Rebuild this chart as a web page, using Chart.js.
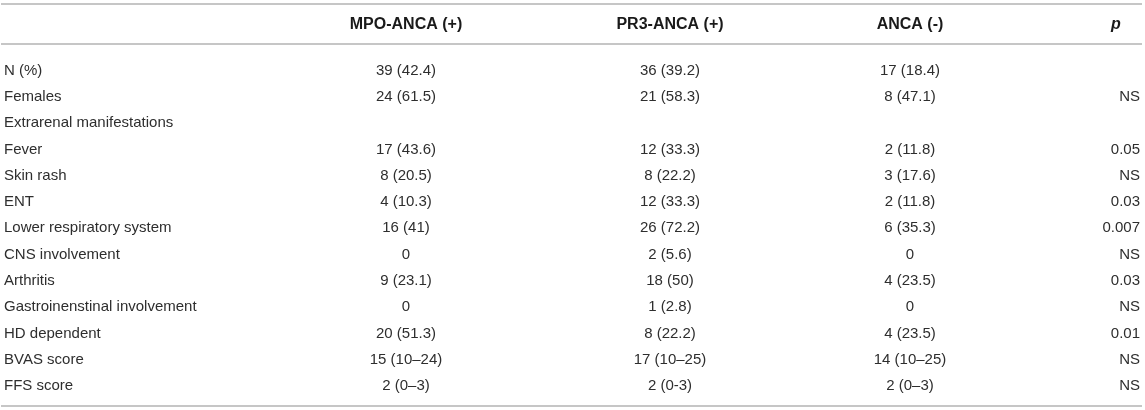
<!DOCTYPE html>
<html>
<head>
<meta charset="utf-8">
<script src="https://cdn.jsdelivr.net/npm/chart.js@4/dist/chart.umd.min.js"></script>
<style>
  html, body { margin: 0; padding: 0; background: #fff; }
  #wrap { width: 1145px; height: 410px; position: relative; }
</style>
</head>
<body>
<div id="wrap"><canvas id="table"></canvas></div>
<script>
// table content
const headers = ['', 'MPO-ANCA (+)', 'PR3-ANCA (+)', 'ANCA (-)', 'p'];
const rowLabels = ['N (%)', 'Females', 'Extrarenal manifestations', 'Fever', 'Skin rash', 'ENT',
  'Lower respiratory system', 'CNS involvement', 'Arthritis', 'Gastroinenstinal involvement',
  'HD dependent', 'BVAS score', 'FFS score'];
const mpoPos = ['39 (42.4)', '24 (61.5)', '', '17 (43.6)', '8 (20.5)', '4 (10.3)', '16 (41)', '0',
  '9 (23.1)', '0', '20 (51.3)', '15 (10–24)', '2 (0–3)'];
const pr3Pos = ['36 (39.2)', '21 (58.3)', '', '12 (33.3)', '8 (22.2)', '12 (33.3)', '26 (72.2)', '2 (5.6)',
  '18 (50)', '1 (2.8)', '8 (22.2)', '17 (10–25)', '2 (0-3)'];
const ancaNeg = ['17 (18.4)', '8 (47.1)', '', '2 (11.8)', '3 (17.6)', '2 (11.8)', '6 (35.3)', '0',
  '4 (23.5)', '0', '4 (23.5)', '14 (10–25)', '2 (0–3)'];
const pValues = ['', 'NS', '', '0.05', 'NS', '0.03', '0.007', 'NS', '0.03', 'NS', '0.01', 'NS', 'NS'];

// layout (x in px across the page, y in row units)
const colX = [4, 406, 670, 910, 1140];
const colAlign = ['left', 'center', 'center', 'center', 'right'];
const headerX = [4, 406, 670, 910, 1116];
const headerRow = -1.73;
const rules = [-2.53, -1.008, 12.76];

const FONT = '"Liberation Sans", Arial, Helvetica, sans-serif';
const columns = [rowLabels, mpoPos, pr3Pos, ancaNeg, pValues];

function cellPoints(col, i) {
  return col.map((txt, r) => ({ x: colX[i], y: r, txt: txt }));
}

const tablePlugin = {
  id: 'tableText',
  afterDatasetsDraw(chart) {
    const ctx = chart.ctx;
    const xs = chart.scales.x, ys = chart.scales.y;
    ctx.save();

    // horizontal rules
    ctx.strokeStyle = '#c6c6c6';
    ctx.lineWidth = 2;
    rules.forEach(r => {
      const y = Math.round(ys.getPixelForValue(r));
      ctx.beginPath();
      ctx.moveTo(xs.getPixelForValue(1), y);
      ctx.lineTo(xs.getPixelForValue(1142), y);
      ctx.stroke();
    });

    // header
    ctx.fillStyle = '#1a1a1a';
    ctx.textBaseline = 'middle';
    headers.forEach((h, i) => {
      if (!h) return;
      ctx.font = (i === 4 ? 'italic bold ' : 'bold ') + '16px ' + FONT;
      ctx.textAlign = 'center';
      ctx.fillText(h, xs.getPixelForValue(headerX[i]), ys.getPixelForValue(headerRow));
    });

    // body cells, placed at each point of the datasets
    ctx.font = '15px ' + FONT;
    ctx.fillStyle = '#2e2e2e';
    chart.data.datasets.forEach((ds, i) => {
      const meta = chart.getDatasetMeta(i);
      ctx.textAlign = colAlign[i];
      meta.data.forEach((pt, j) => {
        const txt = ds.data[j].txt;
        if (txt) ctx.fillText(txt, pt.x, pt.y);
      });
    });
    ctx.restore();
  }
};

new Chart(document.getElementById('table'), {
  type: 'scatter',
  data: {
    datasets: columns.map((col, i) => ({
      label: headers[i] || 'Variable',
      data: cellPoints(col, i),
      pointRadius: 0,
      pointHoverRadius: 0
    }))
  },
  options: {
    responsive: true,
    maintainAspectRatio: false,
    animation: false,
    layout: { padding: 0 },
    plugins: { legend: { display: false }, tooltip: { enabled: false } },
    scales: {
      x: { type: 'linear', min: 0, max: 1145, display: false },
      y: { type: 'linear', min: -2.682, max: 12.914, reverse: true, display: false }
    }
  },
  plugins: [tablePlugin]
});
</script>
</body>
</html>
